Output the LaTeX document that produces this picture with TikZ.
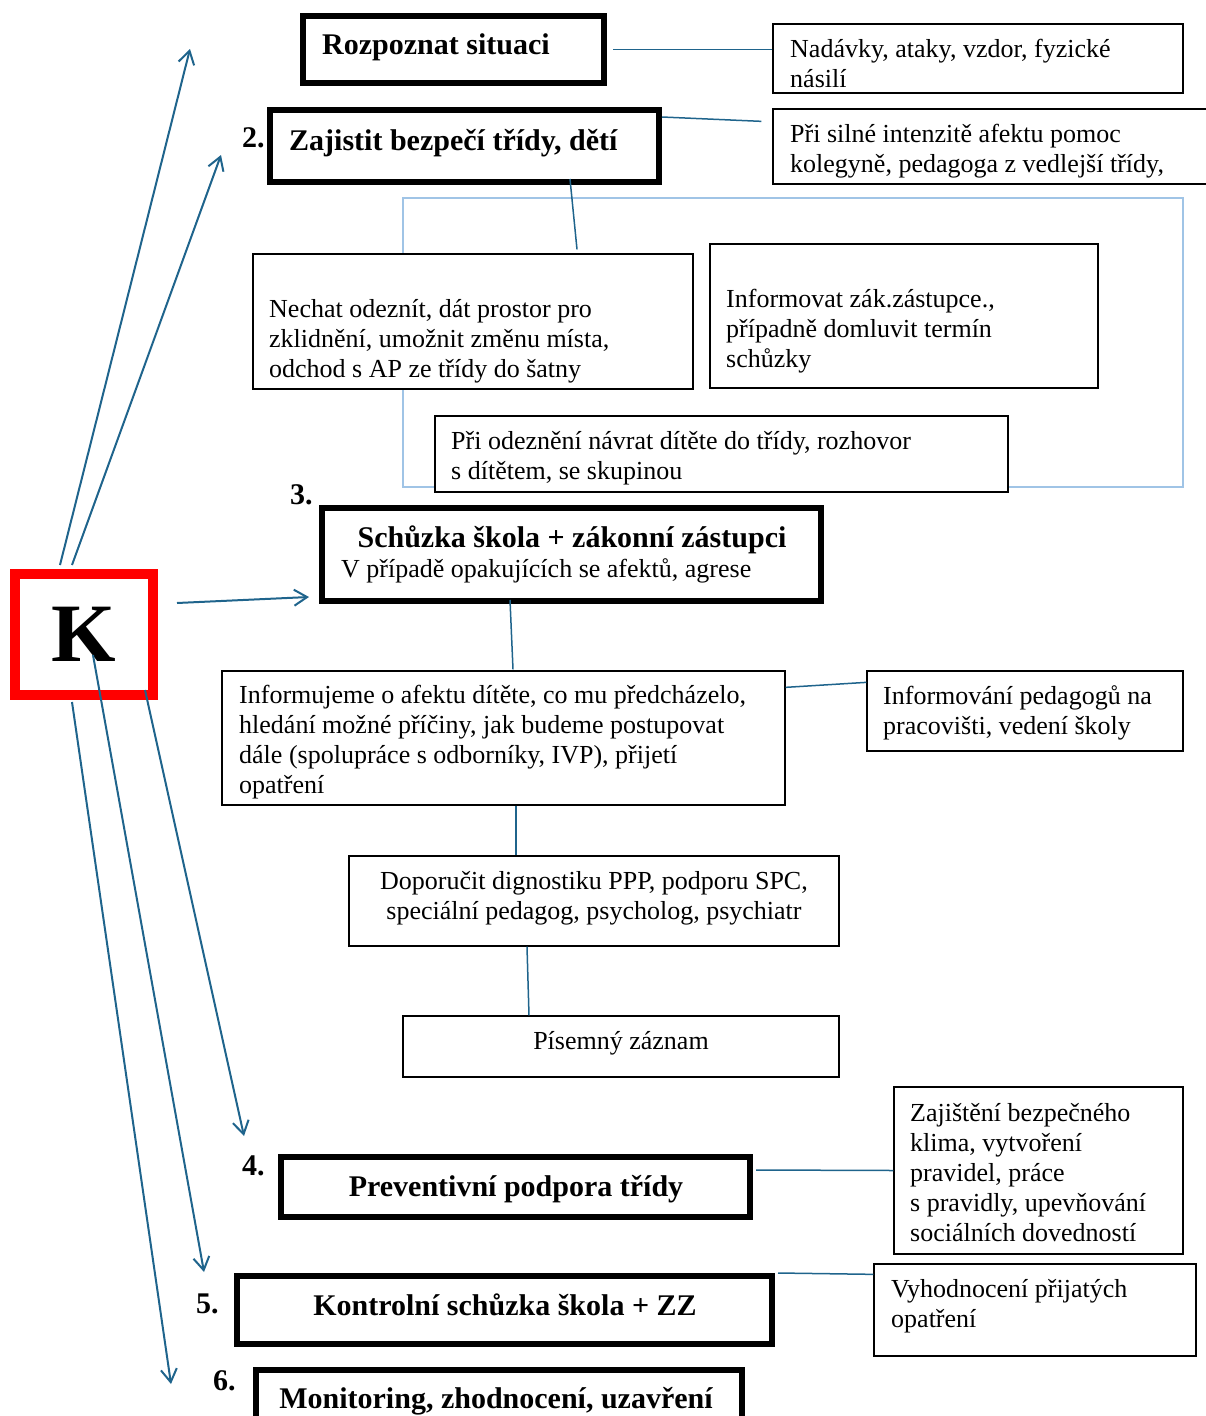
\documentclass[tikz,border=0pt]{standalone}
\usepackage{fontspec}
\setmainfont{Liberation Serif}
\usetikzlibrary{arrows.meta}
\definecolor{linkblue}{RGB}{31,100,140}
\definecolor{framelight}{RGB}{160,196,230}
\definecolor{kred}{RGB}{255,0,0}

\begin{document}
\begin{tikzpicture}[x=1pt, y=-1pt,
    stepbox/.style={draw=black, line width=6pt, fill=white, inner sep=0pt},
    notebox/.style={draw=black, line width=1.3pt, fill=white, inner sep=0pt},
    kbox/.style={draw=kred, line width=10pt, fill=white, inner sep=0pt,
        font=\fontsize{83}{90}\selectfont\bfseries},
    head/.style={inner sep=0pt, font=\fontsize{30}{34}\selectfont\bfseries},
    body/.style={inner sep=0pt, align=left, font=\fontsize{26}{30}\selectfont},
    link/.style={draw=linkblue, line width=1.5pt},
    karrow/.style={draw=linkblue, line width=2pt, -{Straight Barb[length=13pt,width=16pt]}}]
    \useasboundingbox (0,0) rectangle (1205,1416);

    % Frame round the steps of point 2
    \draw[framelight, line width=2pt] (403,198) rectangle (1183,487);

    % Steps
    \node[stepbox, minimum width=301pt, minimum height=67pt] (rozpoznat) at (453.5,49.5) {};
    \node[stepbox, minimum width=389pt, minimum height=72pt] (zajistit) at (464.5,146) {};
    \node[stepbox, minimum width=499pt, minimum height=93pt] (schuzka) at (571.5,554.5) {};
    \node[stepbox, minimum width=469pt, minimum height=60pt] (preventivni) at (515.5,1187) {};
    \node[stepbox, minimum width=535pt, minimum height=68pt] (kontrolni) at (504.5,1310) {};
    \node[stepbox, minimum width=486pt, minimum height=70pt] (monitoring) at (499,1405) {};

    % Notes
    \node[notebox, minimum width=410pt, minimum height=69pt] (nadavky) at (978,58.5) {};
    \node[notebox, minimum width=457pt, minimum height=75pt] (silne) at (1001.5,146.5) {};
    \node[notebox, minimum width=440pt, minimum height=135pt] (nechat) at (473,321.5) {};
    \node[notebox, minimum width=388pt, minimum height=144pt] (informovat) at (904,316) {};
    \node[notebox, minimum width=573pt, minimum height=76pt] (odezneni) at (721.5,454) {};
    \node[notebox, minimum width=563pt, minimum height=134pt] (informujeme) at (503.5,738) {};
    \node[notebox, minimum width=316pt, minimum height=80pt] (pedagogu) at (1025,711) {};
    \node[notebox, minimum width=490pt, minimum height=90pt] (doporucit) at (594,901) {};
    \node[notebox, minimum width=436pt, minimum height=61pt] (pisemny) at (621,1046.5) {};
    \node[notebox, minimum width=289pt, minimum height=167pt] (zajisteni) at (1038.5,1170.5) {};
    \node[notebox, minimum width=322pt, minimum height=92pt] (vyhodnoceni) at (1035,1310) {};

    % Texts (base = last line)
    \node[head, anchor=base west] (rozpoznat-t) at (322,54) {Rozpoznat situaci};
    \node[head, anchor=base west] (zajistit-t) at (289,150) {Zajistit bezpečí třídy, dětí};
    \node[head, anchor=base] (schuzka-t) at (572,547) {Schůzka škola + zákonní zástupci};
    \node[body, anchor=base west] (schuzka-s) at (341,577) {V případě opakujících se afektů, agrese};
    \node[head, anchor=base] (preventivni-t) at (516,1196) {Preventivní podpora třídy};
    \node[head, anchor=base] (kontrolni-t) at (505,1315) {Kontrolní schůzka škola + ZZ};
    \node[head, anchor=base] (monitoring-t) at (496,1408) {Monitoring, zhodnocení, uzavření};

    \node[body, anchor=base west] (nadavky-t) at (790,87) {Nadávky, ataky, vzdor, fyzické\\násilí};
    \node[body, anchor=base west] (silne-t) at (790,172) {Při silné intenzitě afektu pomoc\\kolegyně, pedagoga z vedlejší třídy,};
    \node[body, anchor=base west] (nechat-t) at (269,377) {Nechat odeznít, dát prostor pro\\zklidnění, umožnit změnu místa,\\odchod s AP ze třídy do šatny};
    \node[body, anchor=base west] (informovat-t) at (726,367) {Informovat zák.zástupce.,\\případně domluvit termín\\schůzky};
    \node[body, anchor=base west] (odezneni-t) at (451,479) {Při odeznění návrat dítěte do třídy, rozhovor\\s dítětem, se skupinou};
    \node[body, anchor=base west] (informujeme-t) at (239,793) {Informujeme o afektu dítěte, co mu předcházelo,\\hledání možné příčiny, jak budeme postupovat\\dále (spolupráce s odborníky, IVP), přijetí\\opatření};
    \node[body, anchor=base west] (pedagogu-t) at (883,734) {Informování pedagogů na\\pracovišti, vedení školy};
    \node[body, align=center, anchor=base] (doporucit-t) at (594,919) {Doporučit dignostiku PPP, podporu SPC,\\speciální pedagog, psycholog, psychiatr};
    \node[body, anchor=base] (pisemny-t) at (621,1049) {Písemný záznam};
    \node[body, anchor=base west] (zajisteni-t) at (910,1241) {Zajištění bezpečného\\klima, vytvoření\\pravidel, práce\\s pravidly, upevňování\\sociálních dovedností};
    \node[body, anchor=base west] (vyhodnoceni-t) at (891,1327) {Vyhodnocení přijatých\\opatření};

    % Step numbers
    \foreach \n/\px/\py in {2/242/147, 3/290/504, 4/242/1175, 5/196/1313, 6/213/1390}
        \node[head, anchor=base west] (num\n) at (\px,\py) {\n.};

    % Links
    \draw[link] ([xshift=6pt]rozpoznat.east) -- (nadavky.west |- rozpoznat.east);
    \draw[link] ([yshift=-10pt]zajistit.north east) -- ([xshift=-11pt,yshift=-13pt]silne.north west);
    \draw[link] ([xshift=105.5pt,yshift=6pt]zajistit.south) -- ([xshift=104pt,yshift=4pt]nechat.north);
    \draw[link] ([xshift=-61.5pt,yshift=4pt]schuzka.south) -- ([xshift=9.5pt,yshift=1pt]informujeme.north);
    \draw[link] ([yshift=-17pt]informujeme.north east) -- ([yshift=-12pt]pedagogu.north west);
    \draw[link] ([xshift=12.5pt]informujeme.south) -- ([xshift=12.5pt]informujeme.south |- doporucit.north);
    \draw[link] ([xshift=-67pt]doporucit.south) -- ([xshift=-92pt]pisemny.north);
    \draw[link] ([xshift=3pt,yshift=17pt]preventivni.east) -- (zajisteni.west);
    \draw[link] ([xshift=3pt]kontrolni.north east) -- ([yshift=-11pt]vyhodnoceni.north west);

    % K and its arrows
    \node[kbox, minimum width=138pt, minimum height=121pt] (kbox) at (83.5,634.5) {K};
    \coordinate (tip1) at (190,49);
    \coordinate (tip2) at (221,155);
    \coordinate (tip3) at (309,597);
    \coordinate (tip4) at (244,1136);
    \coordinate (tip5) at (204,1272);
    \coordinate (tip6) at (171,1384);
    \draw[karrow] ([xshift=-23.5pt,yshift=4pt]kbox.north) -- (tip1);
    \draw[karrow] ([xshift=-11.5pt,yshift=4pt]kbox.north) -- (tip2);
    \draw[karrow] ([xshift=19.5pt,yshift=31.5pt]kbox.east) -- (tip3);
    \draw[karrow] ([xshift=-12.5pt,yshift=10pt]kbox.south east) -- (tip4);
    \draw[karrow] ([xshift=9.5pt,yshift=-20.5pt]kbox.center) -- (tip5);
    \draw[karrow] ([xshift=-11.5pt,yshift=-2pt]kbox.south) -- (tip6);
\end{tikzpicture}
\end{document}
